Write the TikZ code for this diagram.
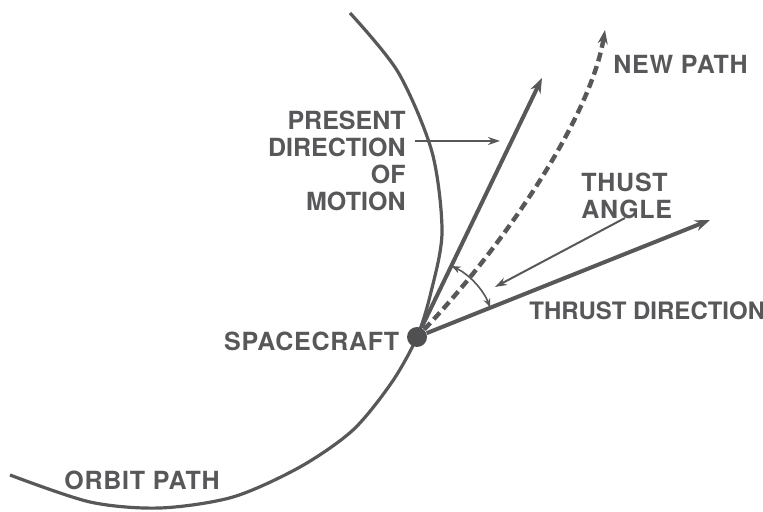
\documentclass[tikz,border=0pt]{standalone}
\usepackage{fontspec}
\setmainfont{TeX Gyre Heros}
\usepackage{xcolor}
\usetikzlibrary{arrows.meta,positioning}

\begin{document}
\begin{tikzpicture}[
  x=0.5pt, y=0.5pt,
  node distance=3.5pt,
  sInk/.style={color={rgb,255:red,88;green,88;blue,90}},
  sLabel/.style={sInk, inner sep=0pt,
    font={\fontsize{12.5}{13.4}\selectfont\bfseries}},
  sWide/.style={sLabel,
    font={\fontsize{12.5}{13.3}\selectfont\bfseries\addfontfeature{LetterSpace=3}}},
  sDot/.style={circle, inner sep=0pt, minimum size=10pt,
    fill={rgb,255:red,80;green,80;blue,82}},
  sOrbit/.style={sInk, line width=1.6pt},
  sThick/.style={sInk, line width=2pt,
    -{Stealth[length=7.5pt,width=5.5pt]}},
  sDash/.style={sInk, line width=2.2pt, dash pattern=on 4.5pt off 2.5pt,
    -{Stealth[length=7pt,width=5pt]}},
  sThin/.style={sInk, line width=1pt,
    -{Stealth[length=6pt,width=4pt]}},
  sAngle/.style={sInk, line width=0.8pt,
    {Stealth[length=4.5pt,width=3.5pt]}-{Stealth[length=4.5pt,width=3.5pt]}},
]
  \useasboundingbox (0,0) rectangle (763,512);

  %% ── Spacecraft ──────────────────────────────────────────────
  \coordinate (scPos) at (417,175);

  %% ── Orbit path ──────────────────────────────────────────────
  \draw[sOrbit] plot[smooth] coordinates {
    (350,499) (398,440) (432,360) (442,280) (431,220) (scPos)
    (392,130) (353,82) (300,45) (233,15) (160,4) (90,10) (10,37)};

  \node[sDot] (sc) at (scPos) {};

  %% ── Arrow tips ──────────────────────────────────────────────
  \coordinate (presTip)   at (542,434);
  \coordinate (newTip)    at (605,482);
  \coordinate (thrustTip) at (710,292);

  \draw[sThick] (sc) -- (presTip);
  \draw[sThick] (sc) -- (thrustTip);
  \draw[sDash]  (sc) .. controls (500,262) and (590,392) .. (newTip);

  %% ── Thrust angle arc ────────────────────────────────────────
  \draw[sAngle] ([shift={(64:79)}]sc.center)
    arc[start angle=64, end angle=22, radius=79];

  %% ── Labels ──────────────────────────────────────────────────
  \node[sWide, left=of sc, yshift=-2pt] (scl) {SPACECRAFT};
  \node[sLabel, align=right, anchor=east] (pres) at (406,351) {%
    PRESENT\\DIRECTION\\OF\\MOTION};
  \node[sWide, align=left, anchor=west] (ang) at (581,316) {%
    THUST\\ANGLE};
  \node[sLabel, font={\fontsize{12}{13}\selectfont\bfseries},
    anchor=west] (thr) at (529,201) {THRUST DIRECTION};
  \node[sWide, anchor=west] (np)  at (613,448) {NEW PATH};
  \node[sWide, anchor=west] (orb) at (64,32)   {ORBIT PATH};

  %% ── Pointer arrows ──────────────────────────────────────────
  \coordinate (presPt)  at (500,371);
  \coordinate (angTail) at (625,294);
  \coordinate (angPt)   at (495,225);
  \draw[sThin] ([shift={(9,20)}]pres.east) -- (presPt);
  \draw[sThin] (angTail) -- (angPt);

\end{tikzpicture}
\end{document}
